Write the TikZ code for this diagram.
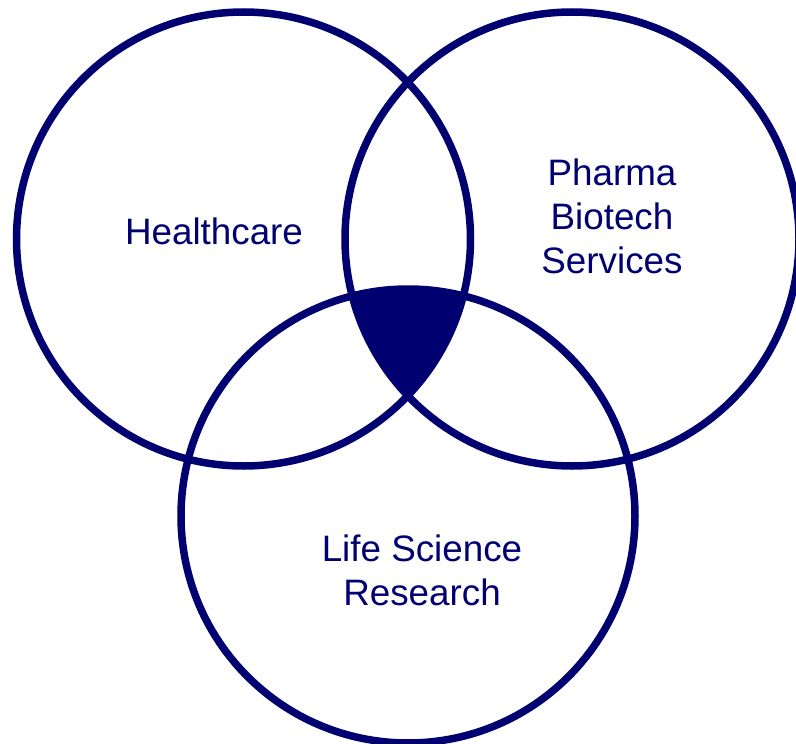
\documentclass[tikz,border=0pt]{standalone}
\usepackage{fontspec}
\setmainfont{Liberation Sans}
\usetikzlibrary{positioning}
\definecolor{vennnavy}{RGB}{0,0,112}

\begin{document}
\begin{tikzpicture}[
        x=1pt, y=-1pt,
        ring/.style={circle, draw=vennnavy, line width=7.5pt, minimum size=454pt, inner sep=0pt},
        tag/.style={text=vennnavy, align=center, font=\fontsize{36.8}{44}\selectfont}
    ]
        \useasboundingbox (0,0) rectangle (796,744);

        % Common overlap
        \begin{scope}
            \clip (243.5,239) circle (227);
            \clip (572,239) circle (227);
            \fill[vennnavy] (408,516) circle (227);
        \end{scope}

        % Circles
        \node[ring] (health) at (243.5,239) {};
        \node[ring] (pharma) at (572,239) {};
        \node[ring] (life) at (408,516) {};

        % Labels
        \node[tag] (healthtext) at (214,231) {Healthcare};
        \node[tag] (pharmatext) at (612,216) {Pharma\\Biotech\\Services};
        \node[tag] (lifetext) at (422,570) {Life Science\\Research};
    \end{tikzpicture}
\end{document}
